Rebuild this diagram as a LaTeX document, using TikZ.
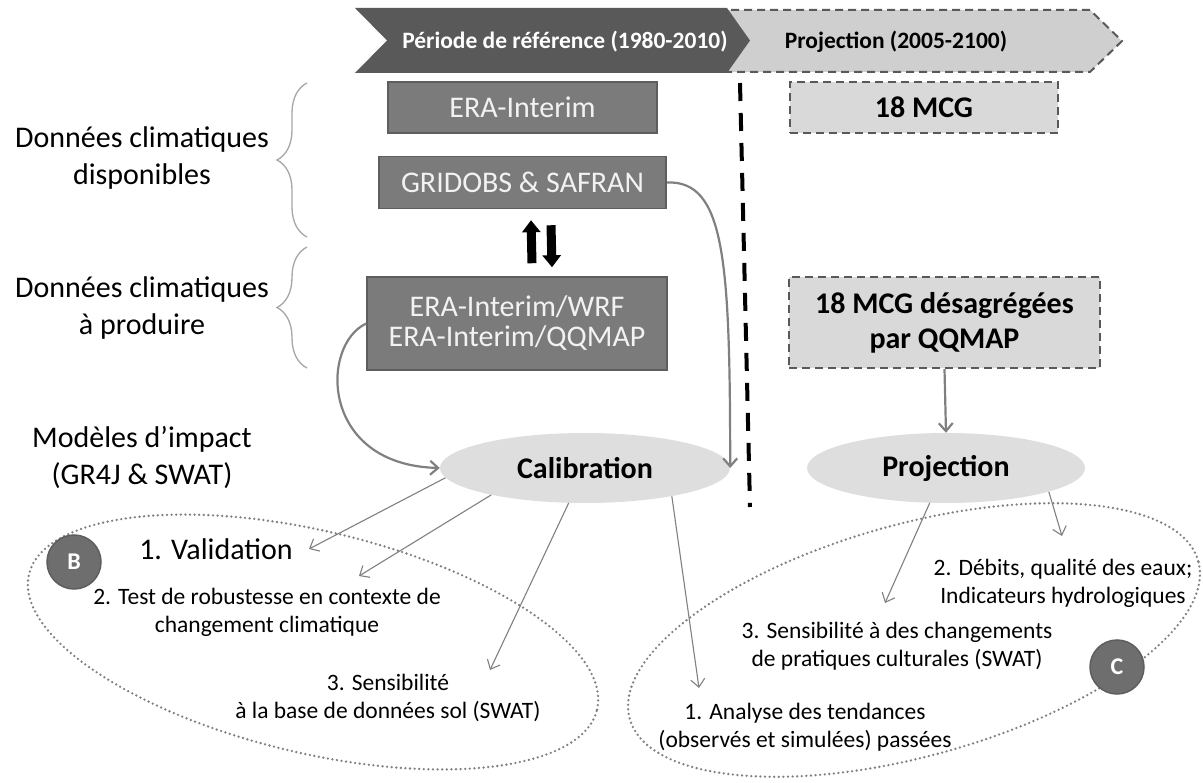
\documentclass[tikz,border=0pt]{standalone}
\usepackage{fontspec}
\setmainfont{Carlito}
\usetikzlibrary{positioning,arrows.meta,decorations.pathreplacing,shapes.geometric}

\definecolor{chevdark}{HTML}{595959}
\definecolor{chevlight}{HTML}{CFCFCF}
\definecolor{boxdark}{HTML}{7B7B7B}
\definecolor{boxedge}{HTML}{5E5E5E}
\definecolor{boxlight}{HTML}{D9D9D9}
\definecolor{ovalfill}{HTML}{DEDEDE}
\definecolor{linkgray}{HTML}{808080}
\definecolor{bracegray}{HTML}{A6A6A6}
\definecolor{badgefill}{HTML}{6E6E6E}

\begin{document}
\begin{tikzpicture}[x=1pt, y=-1pt, >={Straight Barb[length=8pt,width=14pt]},
  bigtext/.style={font=\fontsize{30}{37}\selectfont, align=center},
  smalltext/.style={font=\fontsize{23.5}{28}\selectfont, align=center},
  bannertext/.style={font=\bfseries\fontsize{23.5}{28}\selectfont},
  darkbox/.style={draw=boxedge, line width=1.5pt, fill=boxdark, text=white!95!black, font=\fontsize{30}{30}\selectfont, align=center},
  dashbox/.style={draw=chevdark, line width=2pt, dash pattern=on 8pt off 5pt, fill=boxlight, font=\bfseries\fontsize{30}{35}\selectfont, align=center},
  oval/.style={ellipse, fill=ovalfill, font=\bfseries\fontsize{30}{36}\selectfont, inner sep=0pt},
  badge/.style={circle, draw=boxedge, line width=1.5pt, fill=badgefill, text=white, font=\bfseries\fontsize{24}{24}\selectfont, minimum size=54pt, inner sep=0pt},
  curlybrace/.style={draw=bracegray, line width=1.3pt, decorate, decoration={brace, amplitude=30pt}},
  dottedring/.style={draw=linkgray, line width=2.6pt, line cap=round, dash pattern=on 0pt off 4.6pt},
  thicklink/.style={draw=linkgray, line width=2.2pt, ->},
  thinlink/.style={draw=linkgray, line width=1.1pt, ->},
  updown/.style={line width=9pt, -{Triangle[width=18pt,length=12pt]}}]
\useasboundingbox (0,0) rectangle (1203,783);

\draw[fill=chevlight, draw=chevdark, line width=2pt, dash pattern=on 8pt off 5pt] (705,10) -- (1090,10) -- (1122,41) -- (1090,72) -- (705,72) -- (737,41) -- cycle;
\fill[chevdark] (355,8) -- (727,8) -- (750,40.5) -- (727,73) -- (355,73) -- (387,40.5) -- cycle;
\node[bannertext, text=white] (reftxt) at (565,42) {Période de référence (1980-2010)};
\node[bannertext] (projtxt) at (896,42) {Projection (2005-2100)};

\node[darkbox, minimum width=269pt, minimum height=51pt] (era) at (522.5,107.5) {ERA-Interim};
\node[darkbox, minimum width=287pt, minimum height=52pt, below=22pt of era] (grid) {GRIDOBS \& SAFRAN};
\node[darkbox, minimum width=300pt, minimum height=93pt] (wrf) at (517,323.5) {ERA-Interim/WRF\\ERA-Interim/QQMAP};
\node[dashbox, minimum width=268pt, minimum height=51pt] (mcg) at (924,107.5) {18 MCG};
\node[dashbox, minimum width=311pt, minimum height=91pt] (qqmap) at (944.5,322.5) {18 MCG désagrégées\\par QQMAP};
\node[oval, minimum width=290pt, minimum height=70pt] (calib) at (585,468) {Calibration};
\node[oval, minimum width=278pt, minimum height=70pt] (proj) at (946,468) {Projection};

\node[bigtext] (dispo) at (142,158) {Données climatiques\\disponibles};
\node[bigtext] (produire) at (142,308) {Données climatiques\\à produire};
\node[bigtext] (impact) at (142,458) {Modèles d’impact\\(GR4J \& SWAT)};
\draw[curlybrace] (307,237) -- (307,83);
\draw[curlybrace] (307,368) -- (307,247);

\draw[line width=4pt, dash pattern=on 18pt off 12pt] (740,83) -- (750,507);

\draw[updown] ([xshift=15pt,yshift=13pt]wrf.north) -- ([xshift=8.5pt,yshift=-11pt]grid.south);
\draw[updown] ([xshift=28.5pt,yshift=-16pt]grid.south) -- ([xshift=35pt,yshift=9pt]wrf.north);

\draw[thicklink] (wrf.west) .. controls (320,345) and (320,465) .. (calib.west);
\draw[thicklink] (grid.east) .. controls (725,180) and (730,260) .. (calib.east);
\draw[thicklink] (qqmap.south) -- (proj.north);

\draw[dottedring, rotate around={-13.4:(313,642)}] (313,642) ellipse [x radius=292pt, y radius=111pt];
\draw[dottedring, rotate around={15.5:(914,640)}] (914,640) ellipse [x radius=295pt, y radius=116pt];

\node[bigtext] (valid) at (216,549) {1. Validation};
\node[smalltext] (robust) at (267,612) {2. Test de robustesse en contexte de\\changement climatique};
\node[smalltext] (solB) at (388,698) {3. Sensibilité\\à la base de données sol (SWAT)};
\node[smalltext] (debits) at (1063,583) {2. Débits, qualité des eaux;\\Indicateurs hydrologiques};
\node[smalltext] (pratiques) at (897,646) {3. Sensibilité à des changements\\de pratiques culturales (SWAT)};
\node[smalltext] (tendances) at (805,727) {1. Analyse des tendances\\(observés et simulées) passées};
\node[badge] (badgeB) at (74,562) {B};
\node[badge] (badgeC) at (1117,667) {C};

\coordinate (tipValid) at (309,549);
\coordinate (tipRobust) at (359,576);
\coordinate (tipSol) at (490,670);
\coordinate (tipTend) at (699,688);
\coordinate (tipPrat) at (885,603);
\coordinate (tipDeb) at (1062,536);
\draw[thinlink] (calib.184) -- (tipValid);
\draw[thinlink] (calib.196) -- (tipRobust);
\draw[thinlink] (calib.245) -- (tipSol);
\draw[thinlink] (calib.342) -- (tipTend);
\draw[thinlink] (proj.245) -- (tipPrat);
\draw[thinlink] (proj.347) -- (tipDeb);
\end{tikzpicture}
\end{document}
